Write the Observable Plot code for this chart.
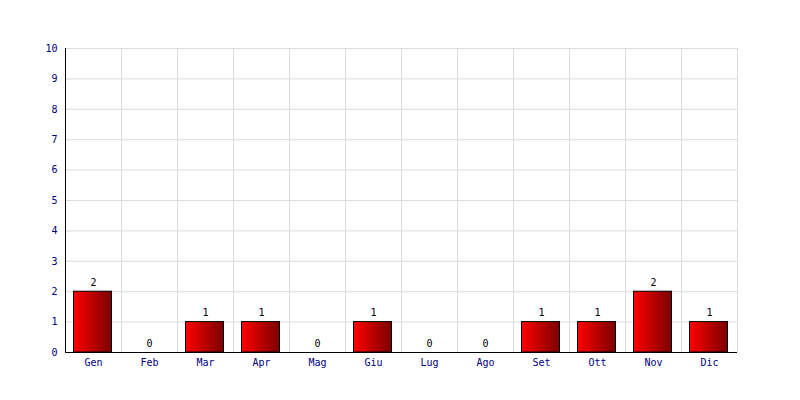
<!DOCTYPE html>
<html><head><meta charset="utf-8">
<script src="https://cdn.jsdelivr.net/npm/d3@7"></script>
<script src="https://cdn.jsdelivr.net/npm/@observablehq/plot@0.6"></script>
<style>body{margin:0;background:#fff}</style>
</head><body><div id="chart"></div>
<script>
const months = ["Gen","Feb","Mar","Apr","Mag","Giu","Lug","Ago","Set","Ott","Nov","Dic"];
const counts = [2,0,1,1,0,1,0,0,1,1,2,1];
const yTicks = [0,1,2,3,4,5,6,7,8,9,10];
const data = months.map((m,i)=>({month:m, value:counts[i]}));

const defs = () => {
  const g = d3.create("svg:defs");
  const lg = g.append("linearGradient").attr("id","barGrad").attr("x1","0").attr("x2","1").attr("y1","0").attr("y2","0");
  lg.append("stop").attr("offset","0%").attr("stop-color","#ff0000");
  lg.append("stop").attr("offset","100%").attr("stop-color","#7a0000");
  return g.node();
};

const chart = Plot.plot({
  width: 800, height: 400,
  marginTop: 48, marginBottom: 48, marginLeft: 65, marginRight: 63,
  style: {fontFamily: "'DejaVu Sans Mono', monospace", fontSize: "10px", background: "#fff", overflow: "visible"},
  x: {domain: months, padding: 0, label: null, tickSize: 0, tickPadding: 6},
  y: {domain: [0,10], ticks: yTicks, label: null, tickSize: 0, tickPadding: 8, tickFormat: d=>d},
  marks: [
    defs,
    Plot.ruleY(yTicks, {stroke: "#dddddd", strokeWidth: 1}),
    Plot.ruleX(months, {stroke: "#dddddd", strokeWidth: 1, dx: -28}),
    Plot.ruleX([months[months.length-1]], {stroke: "#dddddd", strokeWidth: 1, dx: 28}),
    Plot.barY(data, {x: "month", y: "value", fill: "url(#barGrad)", stroke: "#000", strokeWidth: 1, insetLeft: 8.5, insetRight: 9.5}),
    Plot.text(data, {x: "month", y: "value", text: d=>String(d.value), lineAnchor: "bottom", dy: -6, fill: "#000", fontSize: 10}),
    Plot.axisX({tickSize: 0, tickPadding: 6, fill: "#000080", fontSize: 10}),
    Plot.axisY({ticks: yTicks, tickSize: 0, tickPadding: 8, fill: "#000080", fontSize: 10, tickFormat: d=>d}),
    Plot.ruleY([0], {stroke: "#000", strokeWidth: 1}),
    Plot.ruleX([months[0]], {stroke: "#000", strokeWidth: 1, dx: -28})
  ]
});
document.getElementById("chart").appendChild(chart);
</script>
</body></html>
